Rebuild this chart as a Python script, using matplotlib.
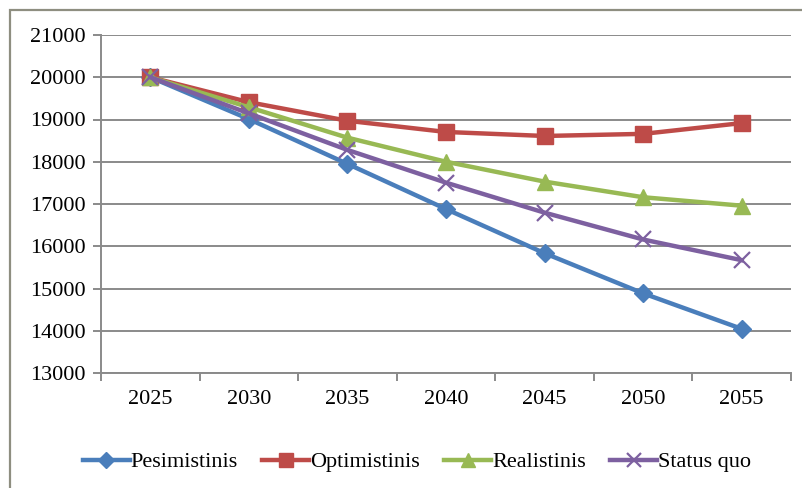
import matplotlib
matplotlib.use("Agg")
import matplotlib.pyplot as plt
from matplotlib.patches import Rectangle
import numpy as np

years = ["2025", "2030", "2035", "2040", "2045", "2050", "2055"]
pesimistinis = [20000, 19010, 17950, 16880, 15835, 14885, 14045]
optimistinis = [20000, 19410, 18970, 18705, 18610, 18660, 18915]
realistinis = [20000, 19290, 18570, 18000, 17530, 17160, 16960]
status_quo = [20000, 19145, 18280, 17505, 16795, 16160, 15670]
yticks = [13000, 14000, 15000, 16000, 17000, 18000, 19000, 20000, 21000]

plt.rcParams['font.family'] = ['Liberation Serif', 'DejaVu Serif']

fig = plt.figure(figsize=(8.02, 4.88), dpi=100)
fig.patches.append(Rectangle((10/802, -0.1), 1.2, 1 - 10/488 + 0.1, transform=fig.transFigure,
                             fill=False, edgecolor='#8e8e80', linewidth=1.6))
ax = fig.add_axes([101/802, 1 - 373/488, 690/802, 338/488])

x = np.arange(len(years))
series = [
    ("Pesimistinis", pesimistinis, '#4A7EBB', 'D', 9),
    ("Optimistinis", optimistinis, '#BE4B48', 's', 11),
    ("Realistinis", realistinis, '#98B954', '^', 11),
    ("Status quo", status_quo, '#7D60A0', 'x', 11),
]
for name, vals, col, mk, ms in series:
    if mk == 'x':
        ax.plot(x, vals, color=col, lw=3.2, marker=mk, ms=ms, mew=1.6, label=name)
    else:
        ax.plot(x, vals, color=col, lw=3.2, marker=mk, ms=ms, mec=col, label=name)

fs = 16
ax.set_xlim(-0.5, len(years) - 0.5)
ax.set_ylim(13000, 21000)
ax.set_yticks(yticks)
ax.set_yticklabels([str(v) for v in yticks], fontsize=fs)
ax.yaxis.grid(True, color='#8a8a8a', lw=1.4)
ax.set_axisbelow(True)
ax.set_xticks(x)
ax.set_xticklabels(years, fontsize=fs)
ax.set_xticks(np.arange(-0.5, len(years)), minor=True)
ax.tick_params(axis='x', which='major', length=0, pad=12)
ax.tick_params(axis='x', which='minor', length=6, color='#8a8a8a', width=1.4, direction='out')
ax.tick_params(axis='y', length=6, color='#8a8a8a', width=1.4, pad=5)
for s in ['top', 'right']:
    ax.spines[s].set_visible(False)
for s in ['left', 'bottom']:
    ax.spines[s].set_color('#8a8a8a')
    ax.spines[s].set_linewidth(1.4)

leg = fig.legend(loc='center', bbox_to_anchor=(0.52, 1 - 462/488), ncol=4, frameon=False,
                 fontsize=fs, handlelength=2.1, handletextpad=0.05, columnspacing=1.1,
                 markerscale=0.9)

fig.savefig("out.png", dpi=100)
